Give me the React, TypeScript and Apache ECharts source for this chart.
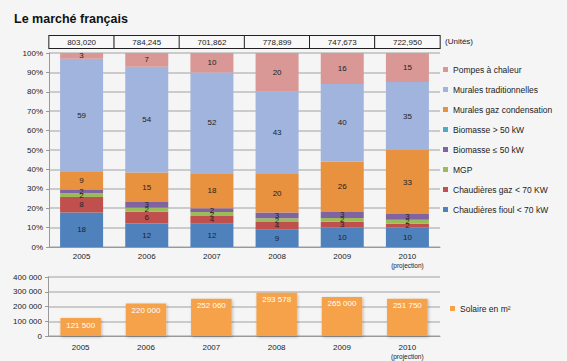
import React, { useEffect, useRef } from "react";
import * as echarts from "echarts";

const years = ["2005", "2006", "2007", "2008", "2009", "2010"];
const totalUnits = [803020, 784245, 701862, 778899, 747673, 722950];

const chaudieresFioul = [18, 12, 12, 9, 10, 10];
const chaudieresGaz = [8, 6, 4, 4, 3, 2];
const mgp = [2, 2, 2, 2, 2, 2];
const biomasseLe50 = [2, 3, 2, 3, 3, 3];
const biomasseGt50 = [0, 0, 0, 0, 0, 0];
const muralesGaz = [9, 15, 18, 20, 26, 33];
const muralesTrad = [59, 54, 52, 43, 40, 35];
const pompes = [3, 7, 10, 20, 16, 15];

const solaire = [121500, 220000, 252060, 293578, 265000, 251750];

const stackSeries = [
  { name: "Chaudières fioul < 70 kW", data: chaudieresFioul, color: "#4F81BD" },
  { name: "Chaudières gaz < 70 KW", data: chaudieresGaz, color: "#C0504D" },
  { name: "MGP", data: mgp, color: "#9BBB59" },
  { name: "Biomasse ≤ 50 kW", data: biomasseLe50, color: "#8064A2" },
  { name: "Biomasse > 50 kW", data: biomasseGt50, color: "#4BACC6" },
  { name: "Murales gaz condensation", data: muralesGaz, color: "#E8913F" },
  { name: "Murales traditionnelles", data: muralesTrad, color: "#A0B4DE" },
  { name: "Pompes à chaleur", data: pompes, color: "#D99795" },
];

const FONT = "'Liberation Sans', Arial, sans-serif";

const fmtSpace = (v: number) =>
  String(v).replace(/\B(?=(\d{3})+(?!\d))/g, " ");

const yearLabel = (v: string) =>
  v === "2010" ? "2010\n{p|(projection)}" : v;

export default function App() {
  const ref = useRef<HTMLDivElement>(null);

  useEffect(() => {
    document.body.style.margin = "0";
    document.body.style.background = "#f5f5f5";
    const chart = echarts.init(ref.current!, null, { renderer: "svg" });

    const sums = years.map((_, i) =>
      stackSeries.reduce((s, ser) => s + ser.data[i], 0)
    );

    const series: any[] = stackSeries.map((ser) => ({
      name: ser.name,
      type: "bar",
      stack: "pct",
      xAxisIndex: 0,
      yAxisIndex: 0,
      barWidth: "66%",
      itemStyle: { color: ser.color },
      label: {
        show: true,
        position: "inside",
        fontSize: 8,
        fontFamily: FONT,
        color: "#222",
        formatter: (p: any) => {
          const raw = ser.data[p.dataIndex];
          return raw > 0 ? String(raw) : "";
        },
      },
      data: ser.data.map((v, i) => (v * 100) / sums[i]),
    }));

    series.push({
      name: "Solaire en m²",
      type: "bar",
      xAxisIndex: 2,
      yAxisIndex: 1,
      barWidth: "62%",
      itemStyle: {
        color: "#F5A24B",
        shadowBlur: 3,
        shadowOffsetX: 1,
        shadowOffsetY: 1,
        shadowColor: "rgba(0,0,0,0.25)",
      },
      label: {
        show: true,
        position: "insideTop",
        distance: 3,
        fontSize: 8,
        fontFamily: FONT,
        color: "#fff",
        formatter: (p: any) => fmtSpace(p.value),
      },
      data: solaire,
    });

    const axisLabelBase = { fontSize: 8, fontFamily: FONT, color: "#222" };

    chart.setOption({
      animation: false,
      backgroundColor: "#f5f5f5",
      textStyle: { fontFamily: FONT },
      title: {
        text: "Le marché français",
        left: 9,
        top: 7,
        textStyle: {
          fontSize: 12.5,
          fontWeight: "bold",
          color: "#111",
          fontFamily: FONT,
        },
      },
      graphic: [
        {
          type: "text",
          left: 445,
          top: 37,
          style: {
            text: "(Unités)",
            fontSize: 8,
            fontFamily: FONT,
            fill: "#222",
          },
        },
      ],
      legend: [
        {
          orient: "vertical",
          left: 443,
          top: 64,
          itemWidth: 5,
          itemHeight: 5,
          itemGap: 9,
          padding: 0,
          icon: "rect",
          textStyle: {
            fontSize: 8.5,
            lineHeight: 11,
            fontFamily: FONT,
            color: "#222",
          },
          data: stackSeries.map((s) => s.name).reverse(),
        },
        {
          orient: "vertical",
          left: 450,
          top: 303,
          itemWidth: 5,
          itemHeight: 5,
          padding: 0,
          icon: "rect",
          textStyle: {
            fontSize: 8.5,
            lineHeight: 11,
            fontFamily: FONT,
            color: "#222",
          },
          data: ["Solaire en m²"],
        },
      ],
      grid: [
        { left: 49, top: 53, width: 391, height: 194 },
        { left: 48, top: 277, width: 392, height: 64 },
      ],
      xAxis: [
        {
          type: "category",
          gridIndex: 0,
          data: years,
          axisLine: { lineStyle: { color: "#999" } },
          axisTick: { length: 3, lineStyle: { color: "#999" } },
          axisLabel: {
            ...axisLabelBase,
            margin: 5,
            interval: 0,
            lineHeight: 9,
            formatter: yearLabel,
            rich: { p: { fontSize: 6.5, fontFamily: FONT, color: "#222" } },
          },
        },
        {
          type: "category",
          gridIndex: 0,
          position: "top",
          data: totalUnits.map((v) => v.toLocaleString("en-US")),
          axisLine: { show: false },
          axisTick: { show: false },
          axisLabel: {
            ...axisLabelBase,
            interval: 0,
            margin: 5,
            width: 64.5,
            height: 12,
            lineHeight: 12,
            align: "center",
            borderColor: "#222",
            borderWidth: 1,
            backgroundColor: "#f8f8f8",
          },
        },
        {
          type: "category",
          gridIndex: 1,
          data: years,
          axisLine: { lineStyle: { color: "#999" } },
          axisTick: { length: 3, lineStyle: { color: "#999" } },
          axisLabel: {
            ...axisLabelBase,
            margin: 7,
            interval: 0,
            lineHeight: 9,
            formatter: yearLabel,
            rich: { p: { fontSize: 6.5, fontFamily: FONT, color: "#222" } },
          },
        },
      ],
      yAxis: [
        {
          type: "value",
          gridIndex: 0,
          min: 0,
          max: 100,
          interval: 10,
          axisLine: { show: true, lineStyle: { color: "#999" } },
          axisTick: { show: true, length: 3, lineStyle: { color: "#999" } },
          splitLine: { lineStyle: { color: "#bcbcbc", width: 1.5 } },
          axisLabel: { ...axisLabelBase, margin: 6, formatter: "{value}%" },
        },
        {
          type: "value",
          gridIndex: 1,
          min: 0,
          max: 400000,
          interval: 100000,
          axisLine: { show: true, lineStyle: { color: "#999" } },
          axisTick: { show: true, length: 3, lineStyle: { color: "#999" } },
          splitLine: { lineStyle: { color: "#bcbcbc", width: 1.5 } },
          axisLabel: {
            ...axisLabelBase,
            margin: 6,
            formatter: (v: number) => fmtSpace(v),
          },
        },
      ],
      series,
    });

    return () => chart.dispose();
  }, []);

  return <div ref={ref} style={{ width: 567, height: 361 }} />;
}
